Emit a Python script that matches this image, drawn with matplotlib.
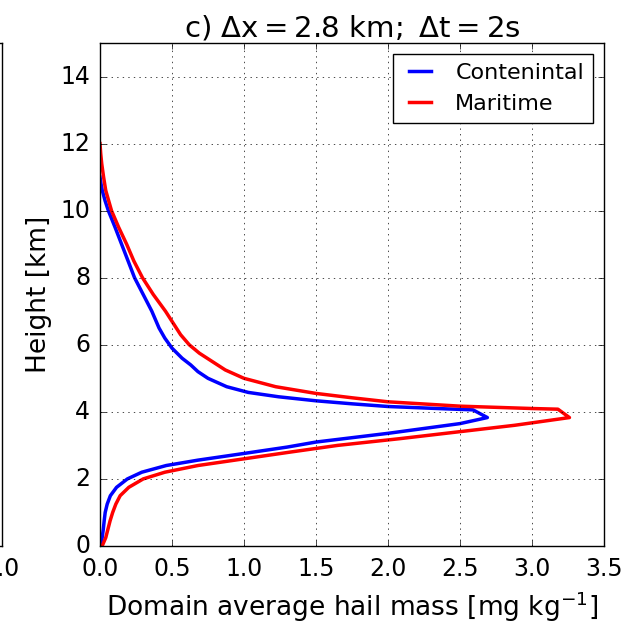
import matplotlib.pyplot as plt

# height [km] / domain average hail mass [mg kg-1]
cont_height = [0.0, 0.25, 0.5, 0.75, 1.0, 1.25, 1.5, 1.75, 2.0, 2.2, 2.4, 2.56, 2.76,
               2.95, 3.1, 3.36, 3.65, 3.83,
               4.06, 4.09, 4.16, 4.24, 4.33, 4.45, 4.58, 4.75, 5.0, 5.2, 5.4, 5.6,
               5.9, 6.2, 6.5, 7.0, 7.5, 8.0, 8.5, 9.0, 9.5, 10.0, 10.3, 10.6, 10.8, 11.0]
cont_mass = [0.005, 0.015, 0.023, 0.029, 0.036, 0.05, 0.072, 0.115, 0.19, 0.29, 0.46, 0.68, 1.0,
             1.3, 1.5, 2.0, 2.5, 2.69,
             2.59, 2.4, 2.0, 1.75, 1.5, 1.24, 1.03, 0.88, 0.75, 0.68, 0.63, 0.57,
             0.5, 0.45, 0.41, 0.36, 0.3, 0.24, 0.195, 0.15, 0.105, 0.058, 0.035, 0.016, 0.007, 0.0]

mari_height = [0.0, 0.25, 0.5, 0.75, 1.0, 1.25, 1.5, 1.75, 2.0, 2.2, 2.4, 2.6, 2.8,
               3.0, 3.2, 3.4, 3.6, 3.83,
               4.08, 4.1, 4.17, 4.3, 4.42, 4.55, 4.75, 5.0, 5.25, 5.5, 5.75, 6.0,
               6.3, 6.6, 7.0, 7.5, 8.0, 8.5, 9.0, 9.5, 10.0, 10.6, 11.0, 11.4, 11.7, 12.0]
mari_mass = [0.015, 0.04, 0.055, 0.07, 0.088, 0.11, 0.14, 0.2, 0.3, 0.45, 0.68, 1.0, 1.32,
             1.65, 2.08, 2.48, 2.88, 3.26,
             3.18, 3.0, 2.5, 2.0, 1.75, 1.5, 1.22, 1.0, 0.87, 0.78, 0.69, 0.62,
             0.56, 0.515, 0.455, 0.37, 0.295, 0.235, 0.185, 0.13, 0.08, 0.04, 0.025, 0.012, 0.005, 0.0]

plt.style.use('classic')
plt.rcParams['figure.facecolor'] = 'white'
plt.rcParams['savefig.facecolor'] = 'white'
plt.rcParams['mathtext.fontset'] = 'dejavusans'
plt.rcParams['mathtext.default'] = 'regular'

fig = plt.figure(figsize=(6.32, 6.26), dpi=100)

# cropped neighbour panel on the left edge
ax0 = fig.add_axes([-0.7, 0.1278, 0.7 + 1.5 / 632, 0.8035])
ax0.set_xlim(0, 1)
ax0.set_xticks([1.0])
ax0.set_xticklabels(['1.0'])
ax0.set_yticks([])
ax0.tick_params(labelsize=17, pad=8)

ax = fig.add_axes([100 / 632, 0.1278, 504 / 632, 0.8035])
ax.plot(cont_mass, cont_height, color='b', lw=2.5, label='Contenintal')
ax.plot(mari_mass, mari_height, color='r', lw=2.5, label='Maritime')

ax.set_xlim(0, 3.5)
ax.set_ylim(0, 15)
ax.set_xticks([0.0, 0.5, 1.0, 1.5, 2.0, 2.5, 3.0, 3.5])
ax.set_yticks([0, 2, 4, 6, 8, 10, 12, 14])
ax.tick_params(axis='x', labelsize=17, pad=8)
ax.tick_params(axis='y', labelsize=17, pad=7)
ax.grid(True)
ax.set_xlabel('Domain average hail mass [mg kg$^{-1}$]', fontsize=19, labelpad=6)
ax.set_ylabel('Height [km]', fontsize=19, labelpad=6)
ax.set_title(r'$c)\ \Delta x=2.8\ km;\ \Delta t=2s$', fontsize=21)
ax.legend(loc='upper right', fontsize=16, handlelength=1.6)

fig.savefig('out.png', dpi=100)
